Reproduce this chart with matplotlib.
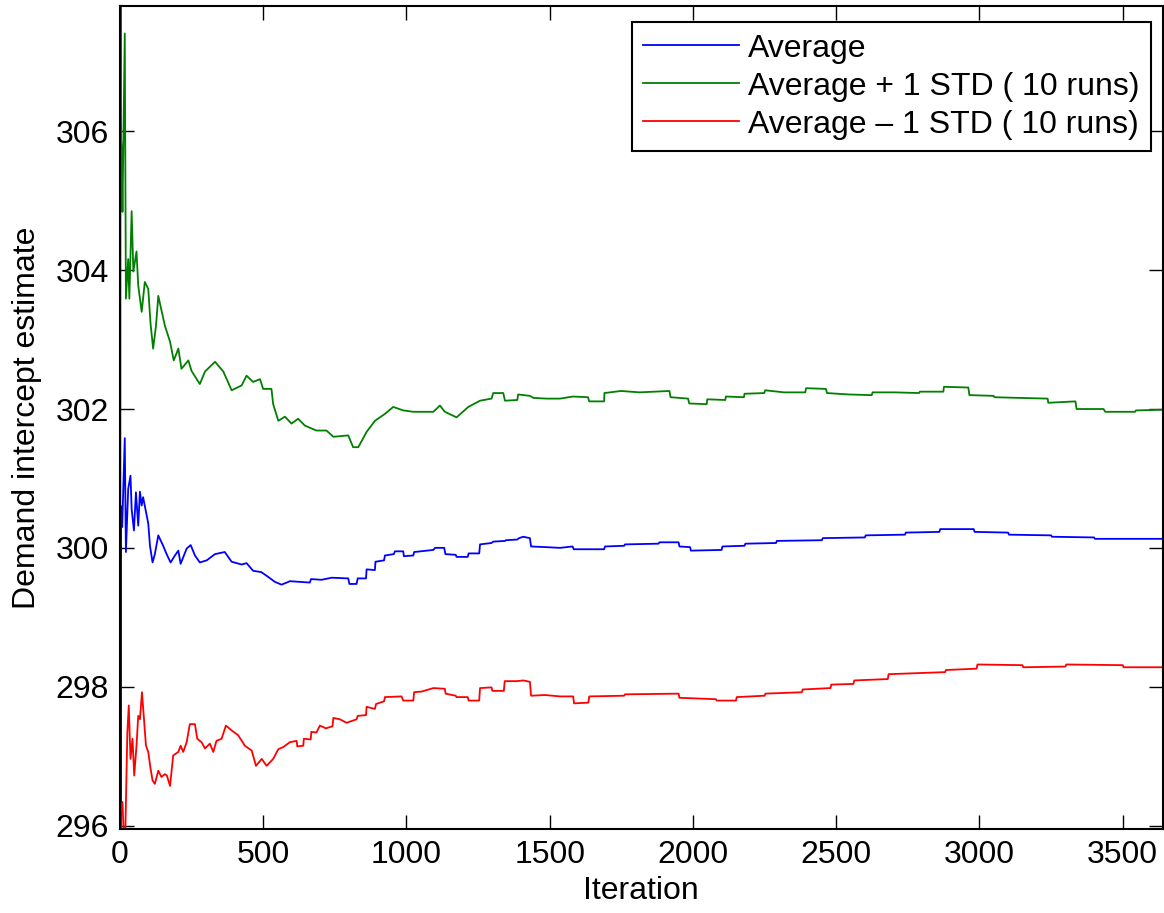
import matplotlib
matplotlib.use("Agg")
import matplotlib.pyplot as plt

# running average of the intercept estimate over 10 runs
avg_iter = [1, 2, 4, 8, 17, 21, 29, 37, 41, 49, 56, 64, 70, 76, 81, 91, 99, 105,
            114, 122, 134, 151, 163, 177, 192, 204, 212, 233, 247, 262, 279, 303,
            332, 366, 390, 425, 442, 465, 494, 518, 541, 564, 588, 593, 663, 667,
            704, 739, 797, 801, 826, 830, 859, 861, 890, 892, 922, 925, 956, 960,
            989, 991, 1024, 1027, 1094, 1100, 1132, 1136, 1172, 1175, 1214, 1217,
            1254, 1257, 1297, 1303, 1344, 1347, 1387, 1393, 1408, 1431, 1435, 1489,
            1536, 1580, 1584, 1637, 1690, 1693, 1760, 1763, 1880, 1883, 1950, 1953,
            1990, 1993, 2100, 2103, 2180, 2183, 2290, 2293, 2450, 2453, 2600, 2603,
            2740, 2743, 2860, 2863, 2980, 2983, 3100, 3103, 3250, 3253, 3400, 3403,
            3640]
avg_val = [312.0, 290.0, 300.6, 300.3, 301.58, 299.94, 300.85, 301.04, 300.56,
           300.25, 300.80, 300.32, 300.81, 300.61, 300.73, 300.52, 300.35, 300.03,
           299.79, 299.91, 300.18, 300.03, 299.91, 299.79, 299.89, 299.96, 299.77,
           299.99, 300.04, 299.89, 299.79, 299.82, 299.91, 299.94, 299.80, 299.76,
           299.78, 299.67, 299.65, 299.58, 299.51, 299.47, 299.51, 299.52, 299.50,
           299.55, 299.54, 299.57, 299.56, 299.48, 299.48, 299.56, 299.56, 299.69,
           299.68, 299.80, 299.82, 299.89, 299.91, 299.95, 299.95, 299.88, 299.89,
           299.94, 299.97, 300.00, 300.00, 299.91, 299.90, 299.87, 299.87, 299.92,
           299.92, 300.05, 300.07, 300.09, 300.10, 300.11, 300.12, 300.14, 300.16,
           300.14, 300.02, 300.01, 300.00, 300.02, 299.98, 299.98, 299.98, 300.02,
           300.03, 300.05, 300.06, 300.08, 300.08, 300.02, 300.01, 299.96, 299.97,
           300.02, 300.03, 300.06, 300.07, 300.10, 300.11, 300.14, 300.15, 300.18,
           300.19, 300.22, 300.23, 300.27, 300.27, 300.23, 300.22, 300.19, 300.18,
           300.16, 300.15, 300.13, 300.13]

plus_iter = [1, 2, 4, 6, 9, 17, 21, 29, 33, 41, 47, 58, 64, 76, 87, 99, 107, 116, 126,
             134, 157, 175, 188, 204, 215, 239, 250, 279, 297, 332, 361, 390, 425,
             442, 465, 489, 500, 529, 535, 553, 576, 599, 622, 646, 686, 721, 745,
             797, 814, 832, 861, 890, 925, 954, 989, 1024, 1094, 1117, 1134, 1175,
             1216, 1257, 1297, 1303, 1338, 1344, 1387, 1390, 1431, 1443, 1489, 1536,
             1582, 1634, 1638, 1690, 1691, 1749, 1814, 1866, 1918, 1922, 1983, 1987,
             2048, 2050, 2113, 2115, 2178, 2180, 2249, 2252, 2318, 2392, 2395, 2464,
             2468, 2542, 2624, 2627, 2705, 2789, 2792, 2874, 2876, 2961, 2965, 3049,
             3053, 3140, 3238, 3240, 3335, 3339, 3433, 3439, 3543, 3546, 3641]
plus_val = [302.0, 312.0, 305.9, 305.75, 304.84, 307.41, 303.59, 304.16, 303.59,
            304.85, 303.98, 304.27, 303.78, 303.40, 303.83, 303.73, 303.23, 302.87,
            303.20, 303.63, 303.20, 302.97, 302.70, 302.87, 302.58, 302.70, 302.55,
            302.36, 302.54, 302.68, 302.54, 302.27, 302.34, 302.48, 302.39, 302.43,
            302.29, 302.29, 302.07, 301.83, 301.89, 301.79, 301.86, 301.76, 301.69,
            301.69, 301.60, 301.62, 301.45, 301.45, 301.67, 301.83, 301.93, 302.03,
            301.98, 301.96, 301.96, 302.05, 301.96, 301.88, 302.03, 302.12, 302.15,
            302.23, 302.23, 302.12, 302.13, 302.21, 302.19, 302.16, 302.15, 302.15,
            302.18, 302.17, 302.11, 302.11, 302.23, 302.26, 302.24, 302.25, 302.26,
            302.17, 302.15, 302.08, 302.07, 302.14, 302.13, 302.18, 302.17, 302.22,
            302.23, 302.27, 302.24, 302.24, 302.30, 302.29, 302.23, 302.21, 302.20,
            302.24, 302.24, 302.23, 302.25, 302.25, 302.32, 302.31, 302.20, 302.19,
            302.17, 302.16, 302.15, 302.09, 302.11, 302.00, 302.00, 301.96, 301.96,
            301.98, 301.99]

minus_iter = [1, 3, 9, 17, 26, 31, 37, 44, 50, 58, 64, 70, 77, 84, 91, 99, 107, 114,
              122, 134, 145, 157, 164, 175, 186, 204, 212, 221, 233, 244, 262, 270,
              285, 297, 314, 326, 337, 355, 370, 390, 413, 436, 460, 475, 495, 512,
              535, 553, 570, 593, 617, 619, 640, 642, 666, 668, 686, 698, 719, 742,
              745, 768, 791, 826, 830, 859, 861, 890, 894, 922, 925, 983, 989, 1024,
              1027, 1053, 1094, 1134, 1137, 1172, 1175, 1214, 1217, 1254, 1257, 1297,
              1300, 1340, 1343, 1385, 1408, 1431, 1435, 1484, 1536, 1582, 1585, 1635,
              1638, 1760, 1763, 1950, 1953, 2080, 2083, 2150, 2153, 2250, 2253, 2380,
              2383, 2480, 2483, 2560, 2563, 2680, 2683, 2880, 2883, 2990, 2993, 3150,
              3153, 3300, 3303, 3500, 3503, 3640]
minus_val = [290.0, 296.2, 296.34, 295.5, 297.34, 297.73, 296.96, 297.25, 296.72,
             297.15, 297.58, 297.53, 297.92, 297.54, 297.15, 297.06, 296.82, 296.65,
             296.60, 296.79, 296.70, 296.74, 296.72, 296.57, 297.01, 297.06, 297.15,
             297.06, 297.20, 297.46, 297.46, 297.25, 297.20, 297.11, 297.18, 297.06,
             297.22, 297.25, 297.44, 297.37, 297.30, 297.15, 297.08, 296.86, 296.96,
             296.86, 296.96, 297.10, 297.13, 297.20, 297.22, 297.14, 297.15, 297.25,
             297.24, 297.35, 297.34, 297.44, 297.40, 297.43, 297.55, 297.53, 297.48,
             297.53, 297.58, 297.59, 297.71, 297.68, 297.75, 297.79, 297.85, 297.86,
             297.80, 297.80, 297.92, 297.93, 297.98, 297.97, 297.90, 297.87, 297.85,
             297.85, 297.80, 297.80, 297.98, 297.99, 297.94, 297.94, 298.08, 298.08,
             298.09, 298.07, 297.87, 297.88, 297.86, 297.86, 297.76, 297.77, 297.86,
             297.87, 297.89, 297.90, 297.84, 297.82, 297.80, 297.80, 297.85, 297.87,
             297.90, 297.92, 297.96, 297.98, 298.03, 298.04, 298.09, 298.11, 298.18,
             298.21, 298.24, 298.26, 298.32, 298.31, 298.28, 298.29, 298.32, 298.31,
             298.28, 298.28]

plt.rcParams['font.family'] = ['Liberation Sans', 'DejaVu Sans']
plt.rcParams['font.size'] = 23

fig = plt.figure(figsize=(11.64, 9.13), dpi=100)
ax = fig.add_axes([0.103, 0.092, 0.896, 0.901])

ax.plot(avg_iter, avg_val, color=(0, 0, 1), lw=1.3, label='Average')
ax.plot(plus_iter, plus_val, color=(0, 0.5, 0), lw=1.3,
        label='Average + 1 STD ( 10 runs)')
ax.plot(minus_iter, minus_val, color=(1, 0, 0), lw=1.3,
        label='Average \u2013 1 STD ( 10 runs)')

ax.set_xlim(0, 3640)
ax.set_ylim(295.95, 307.8)
ax.set_xticks(range(0, 3501, 500))
ax.set_yticks(range(296, 307, 2))
ax.tick_params(direction='in', length=10, width=1, top=True, right=True,
               labelsize=23, pad=8)
for s in ax.spines.values():
    s.set_linewidth(1.5)

ax.set_xlabel('Iteration', fontsize=23, labelpad=4)
ax.set_ylabel('Demand intercept estimate', fontsize=23, labelpad=10)

leg = ax.legend(loc='upper right', bbox_to_anchor=(0.9885, 0.9806),
                borderaxespad=0, fancybox=False, framealpha=1,
                edgecolor='black', handlelength=3.0, handletextpad=0.3,
                labelspacing=0.25, borderpad=0.35, fontsize=23)
leg.get_frame().set_linewidth(1.5)

fig.savefig('out.png', dpi=100)
